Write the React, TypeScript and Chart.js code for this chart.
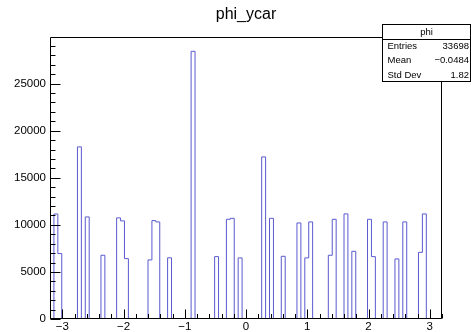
import React, { useEffect, useRef } from "react";
import { Chart, registerables } from "chart.js";

Chart.register(...registerables);

// Histogram definition (100 bins over [-3.2, 3.2])
const xMin = -3.2;
const xMax = 3.2;
const nBins = 100;
// filled bins (0-based index) and their contents
const filledBins = [2, 3, 8, 10, 14, 18, 19, 20, 26, 27, 28, 31, 37, 43, 46, 47, 49, 55, 57, 60, 64, 66, 67, 72, 73, 76, 78, 82, 83, 86, 89, 91, 95, 96];
const binCounts = [11150, 6950, 18280, 10840, 6770, 10740, 10420, 6415, 6275, 10450, 10310, 6500, 28430, 6625, 10590, 10690, 6490, 17215, 10690, 6660, 10200, 6490, 10310, 6770, 10590, 11160, 7190, 10590, 6625, 10310, 6380, 10310, 7080, 11160];

const xTickValues = [-3, -2, -1, 0, 1, 2, 3];
const yTickValues = [0, 5000, 10000, 15000, 20000, 25000];
const yMax = 29950;

const titleText = "phi_ycar";
const statsName = "phi";
const statsLabels = ["Entries", "Mean", "Std Dev"];
const statsValues = ["33698", "\u22120.0484", "1.82"];

const FONT = "'Liberation Sans', Arial, Helvetica, sans-serif";

function buildSteps() {
  const contents = new Array(nBins).fill(0);
  filledBins.forEach((b, i) => (contents[b] = binCounts[i]));
  const w = (xMax - xMin) / nBins;
  const pts = [] as { x: number; y: number }[];
  pts.push({ x: xMin, y: 0 });
  for (let i = 0; i < nBins; i++) pts.push({ x: xMin + i * w, y: contents[i] });
  pts.push({ x: xMax, y: 0 });
  return pts;
}

const fmtNum = (v: number) => (v < 0 ? "\u2212" + Math.abs(v) : String(v));

const framePlugin = {
  id: "rootFrame",
  afterDatasetsDraw(chart: any) {
    const { ctx, chartArea, scales } = chart;
    const { left, right, top, bottom } = chartArea;
    const xs = scales.x;
    const ys = scales.y;
    ctx.save();
    ctx.strokeStyle = "#000";
    ctx.lineWidth = 1;
    const L = Math.round(left) + 0.5;
    const R = Math.round(right) - 0.5;
    const T = Math.round(top) + 0.5;
    const B = Math.round(bottom) - 0.5;
    ctx.beginPath();
    ctx.rect(L, T, R - L, B - T);
    ctx.stroke();
    ctx.beginPath();
    for (let k = -16; k <= 16; k++) {
      const v = k / 5;
      const px = Math.round(xs.getPixelForValue(v)) + 0.5;
      const len = k % 5 === 0 ? 9 : 4.5;
      ctx.moveTo(px, B);
      ctx.lineTo(px, B - len);
    }
    for (let v = 0; v <= 29000; v += 1000) {
      const py = Math.round(ys.getPixelForValue(v)) + 0.5;
      const len = v % 5000 === 0 ? 10 : 5;
      ctx.moveTo(L, py);
      ctx.lineTo(L + len, py);
    }
    ctx.stroke();
    ctx.restore();
  },
  afterDraw(chart: any) {
    const { ctx } = chart;
    ctx.save();
    // title
    ctx.fillStyle = "#000";
    ctx.font = `16px ${FONT}`;
    ctx.textAlign = "center";
    ctx.textBaseline = "middle";
    ctx.fillText(titleText, 246, 15);
    // stats box
    const bx = 382.5, by = 24.5, bw = 88, bh = 57;
    ctx.fillStyle = "#fff";
    ctx.fillRect(bx, by, bw, bh);
    ctx.strokeStyle = "#000";
    ctx.lineWidth = 1;
    ctx.strokeRect(bx, by, bw, bh);
    const rowH = bh / 4;
    ctx.beginPath();
    ctx.moveTo(bx, Math.round(by + rowH) + 0.5);
    ctx.lineTo(bx + bw, Math.round(by + rowH) + 0.5);
    ctx.stroke();
    ctx.fillStyle = "#000";
    ctx.font = `9.5px ${FONT}`;
    ctx.textAlign = "center";
    ctx.fillText(statsName, bx + bw / 2, by + rowH / 2 + 0.5);
    for (let i = 0; i < statsLabels.length; i++) {
      const cy = by + rowH * (i + 1.5) + 0.5;
      ctx.textAlign = "left";
      ctx.fillText(statsLabels[i], bx + 5, cy);
      ctx.textAlign = "right";
      ctx.fillText(statsValues[i], bx + bw - 1.5, cy);
    }
    ctx.restore();
  },
};

export default function App() {
  const ref = useRef<HTMLCanvasElement | null>(null);
  useEffect(() => {
    if (!ref.current) return;
    const chart = new Chart(ref.current, {
      type: "line",
      data: {
        datasets: [
          {
            data: buildSteps(),
            stepped: "after",
            borderColor: "#5a5ad0",
            borderWidth: 1,
            pointRadius: 0,
            fill: false,
            tension: 0,
          },
        ],
      },
      options: {
        animation: false,
        responsive: true,
        maintainAspectRatio: false,
        parsing: false,
        layout: { padding: { top: 37, right: 29, left: 0, bottom: 0 } },
        plugins: { legend: { display: false }, title: { display: false }, tooltip: { enabled: false } },
        scales: {
          x: {
            type: "linear",
            min: xMin,
            max: xMax,
            grid: { display: false, drawTicks: false },
            border: { display: false },
            afterBuildTicks: (s: any) => {
              s.ticks = xTickValues.map((v) => ({ value: v }));
            },
            afterFit: (s: any) => {
              s.height = 13;
            },
            ticks: {
              padding: 1,
              maxRotation: 0,
              autoSkip: false,
              color: "#000",
              font: { family: FONT, size: 11.5 },
              callback: (v: any) => fmtNum(Number(v)),
            },
          },
          y: {
            type: "linear",
            min: 0,
            max: yMax,
            grid: { display: false, drawTicks: false },
            border: { display: false },
            afterBuildTicks: (s: any) => {
              s.ticks = yTickValues.map((v) => ({ value: v }));
            },
            afterFit: (s: any) => {
              s.width = 50;
            },
            ticks: {
              padding: 4,
              autoSkip: false,
              color: "#000",
              font: { family: FONT, size: 11.5 },
              callback: (v: any) => String(v),
            },
          },
        },
      },
      plugins: [framePlugin],
    });
    return () => chart.destroy();
  }, []);
  return (
    <div style={{ position: "absolute", left: 0, top: 0, width: 471, height: 332, background: "#fff" }}>
      <canvas ref={ref} />
    </div>
  );
}
